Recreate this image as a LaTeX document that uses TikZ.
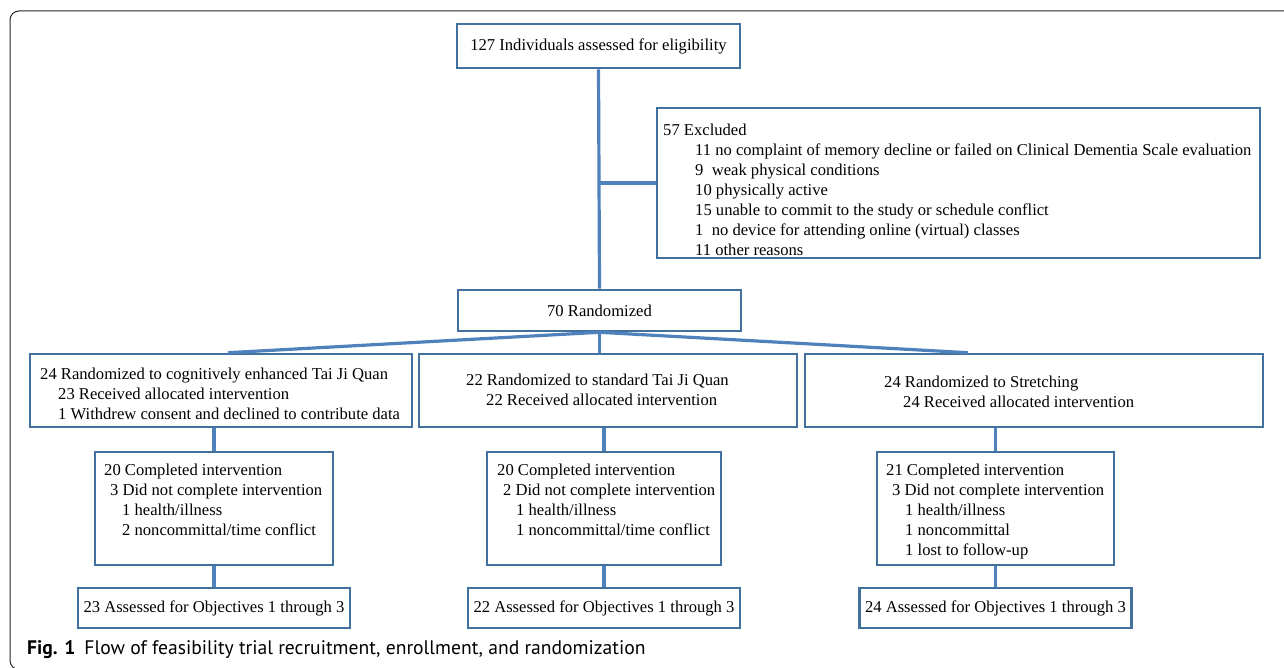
\documentclass[tikz,border=0pt]{standalone}
\usepackage{fontspec}
\setmainfont{Liberation Serif}
\newfontfamily\capfont{PT Sans}
\definecolor{lineblue}{RGB}{79,129,189}
\definecolor{boxblue}{RGB}{65,113,156}
\tikzset{
  box/.style={draw=boxblue, line width=2.6pt, inner sep=0pt, fill=white, font=\fontsize{16.6}{20}\selectfont},
  link/.style={draw=lineblue, line width=3.2pt},
  txt/.style={inner sep=0pt, align=left, anchor=north west, font=\fontsize{16.6}{20}\selectfont},
}
\begin{document}
\begin{tikzpicture}[x=1pt,y=-1pt]
\useasboundingbox (0,0) rectangle (1284,668);

	%frame
 \draw[black!85, line width=1pt, rounded corners=9pt] (1300,669.5) -| (10,11) -- (1300,11);

	%screening
 \node[box, minimum width=283, minimum height=44] (elig) at (598.5,46) {127 Individuals assessed for eligibility};
 \node[box, minimum width=603, minimum height=150] (excl) at (958.5,183) {};
 \node[txt] (excltxt) at (663,124) {57 Excluded\\
   \hspace*{32pt}11 no complaint of memory decline or failed on Clinical Dementia Scale evaluation\\
   \hspace*{32pt}9\ \ weak physical conditions\\
   \hspace*{32pt}10 physically active\\
   \hspace*{32pt}15 unable to commit to the study or schedule conflict\\
   \hspace*{32pt}1\ \ no device for attending online (virtual)\ classes\\
   \hspace*{32pt}11 other reasons};
 \node[box, minimum width=283, minimum height=41] (rand) at (599.5,310.5) {70 Randomized};

	%arms
 \node[box, minimum width=382, minimum height=73] (arm1) at (221,390.5) {};
 \node[box, minimum width=378, minimum height=73] (arm2) at (608,390.5) {};
 \node[box, minimum width=458, minimum height=73] (arm3) at (1034,390.5) {};
 \node[txt] (arm1txt) at (40,368) {24 Randomized to cognitively\ enhanced Tai Ji Quan\\
   \hspace*{18pt}23 Received allocated intervention\\
   \hspace*{18pt}1 Withdrew consent and declined to contribute data};
 \node[txt] (arm2txt) at (466,374) {22 Randomized to standard Tai Ji Quan\\
   \hspace*{20pt}22 Received allocated intervention};
 \node[txt] (arm3txt) at (884,376) {24 Randomized to Stretching\\
   \hspace*{19pt}24 Received allocated intervention};

	%completion and assessment
    \foreach \i/\x/\w in {1/214/238, 2/604/234, 3/995.5/237}{
      \node[box, minimum width=\w, minimum height=113] (done\i) at (\x,508.5) {};
      \node[box, minimum width=272, minimum height=40] (rep\i) at (\x,608) {};
    }
 \node[txt] (done1txt) at (104,464) {20 Completed intervention\\
   \hspace*{6pt}3 Did not complete intervention\\
   \hspace*{18pt}1 health/illness\\
   \hspace*{18pt}2 noncommittal/time conflict};
 \node[txt] (done2txt) at (497,464) {20 Completed intervention\\
   \hspace*{6pt}2 Did not complete intervention\\
   \hspace*{19pt}1 health/illness\\
   \hspace*{19pt}1 noncommittal/time conflict};
 \node[txt] (done3txt) at (886,464) {21 Completed intervention\\
   \hspace*{6pt}3 Did not complete intervention\\
   \hspace*{19pt}1 health/illness\\
   \hspace*{19pt}1 noncommittal\\
   \hspace*{19pt}1 lost to follow-up};
    \foreach \i/\num in {1/23, 2/22, 3/24}{
      \node[txt, anchor=center] (rep\i txt) at (rep\i) {\num\ Assessed for Objectives 1 through 3};
    }

	%links
 \draw[link] (elig.south) -- (rand.north);
 \draw[link] (elig.south |- excl.west) -- (excl.west);
 \draw[link] (rand.south) -- ([xshift=7pt]arm1.north);
 \draw[link] (rand.south) -- (rand.south |- arm2.north);
 \draw[link] (rand.south) -- ([xshift=-66pt]arm3.north);
    \foreach \i in {1,2,3}{
      \draw[link] (done\i.north |- arm\i.south) -- (done\i.north);
      \draw[link] (done\i.south) -- (rep\i.north);
    }

	%caption
 \node[anchor=west, inner sep=0pt, font=\capfont\fontsize{19.6}{22}\selectfont] (cap) at (27,650)
   {\textbf{Fig. 1}\hspace{9pt}Flow of feasibility trial recruitment, enrollment, and randomization};

\end{tikzpicture}
\end{document}
